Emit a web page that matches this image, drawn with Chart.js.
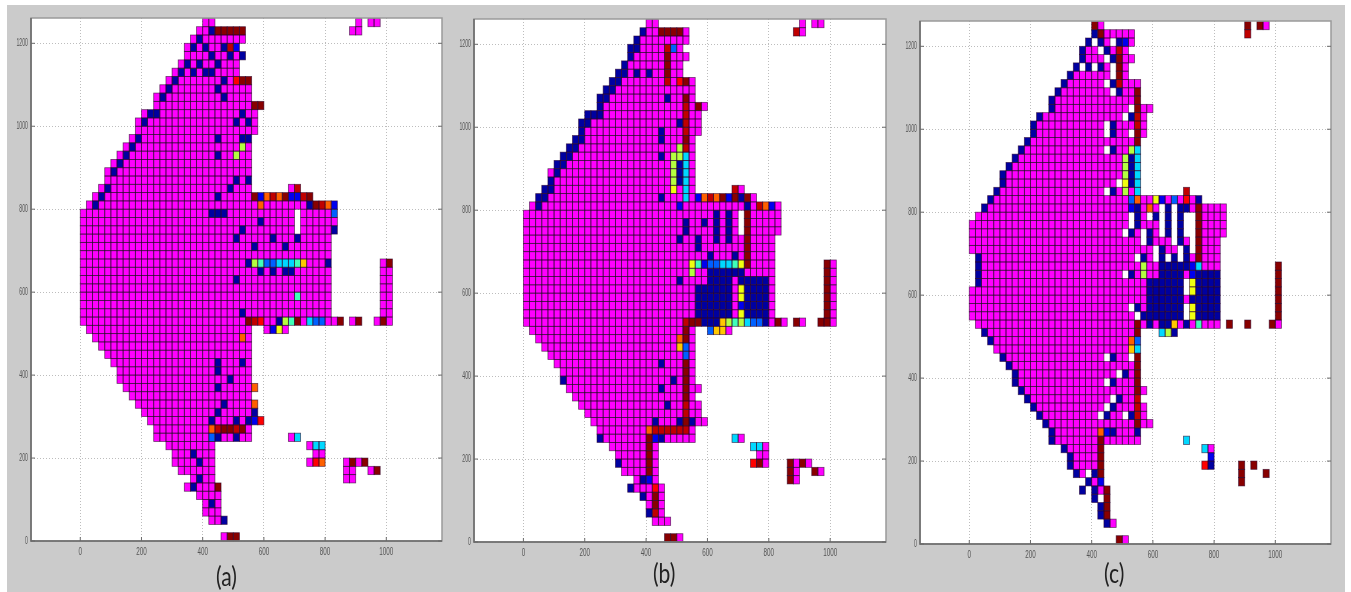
<!DOCTYPE html>
<html>
<head>
<meta charset="utf-8">
<script src="https://cdn.jsdelivr.net/npm/chart.js@4"></script>
<style>
html,body{margin:0;padding:0;background:#fff;width:1351px;height:592px;overflow:hidden}
#frame{position:absolute;left:7px;top:5px;width:1338px;height:587px;background:#cbcbcb}
canvas{position:absolute;top:0}
.lab{position:absolute;font-family:Lato,"Open Sans",sans-serif;font-size:27px;line-height:30px;color:#222;white-space:nowrap;transform:scaleX(.78);transform-origin:left top}
</style>
</head>
<body>
<div id="frame"></div>
<canvas id="ca" style="left:1px" width="451" height="592"></canvas>
<canvas id="cb" style="left:444px" width="452" height="592"></canvas>
<canvas id="cc" style="left:890px" width="451" height="592"></canvas>
<div class="lab" style="left:216px;top:561px">(a)</div>
<div class="lab" style="left:653px;top:558px">(b)</div>
<div class="lab" style="left:1104px;top:558px">(c)</div>
<script>
const xTicks = [0, 200, 400, 600, 800, 1000];
const yTicks = [0, 200, 400, 600, 800, 1000, 1200];
const binSize = 20;

// colour classes of the cells
const levelNames = ['M','N','B','L','C','T','G','Y','A','O','R','E','D'];
const levelColors = ['#ff00ff','#0000a0','#0000ee','#0060ff','#00d8ff','#40ffb8','#b4ff40','#f0ff10','#ffc800','#ff6000','#ff0000','#c00000','#880000'];

// Rows top to bottom (row 62 first, row 0 last). Tokens: "a-b" or "a" = column range, trailing letter = class
// (none = M, _ = empty cell).
const rowsA = [
"20-21 45 47-48",
"19-26 21N 22-26D 44-45",
"18-26 19N",
"17-25 18N 20N 23N 24E 25B",
"17-26 21N 24N 26N",
"16-25 17N 19N 22N",
"15-25 16N 18N 20-21N",
"14-27 15N 23N 25R 26-27D",
"13-27 14N 22N",
"12-27 13N 23N",
"12-27 28-29D",
"10-28 11-12N 26N",
"9-28 10N 25N 27N",
"9-28",
"8-27 9N 22N 26-27N",
"7-27 8N 26G",
"6-27 7N 22N 25G",
"5-27 6N",
"4-27 5N",
"4-27 25N 27N",
"3-27 4N 24N 34 35E",
"2-37 3N 22N 28D 29B 30O 31E 32O 33D 34-35B 36E 37D",
"1-41 2N 29O 37N 38D 39E 40O 41B",
"0-41 21-23N 35_ 41L",
"0-41 29N 35_",
"0-41 26N 35_ 41N",
"0-40 25N 31N 35N",
"0-40 28N 33N",
"0-40",
"0-40 27N 28G 29T 30-31L 32-34C 35T 36A 40N 49 50D",
"0-40 29N 31N 33-34N 49-50",
"0-40 25N 49-50",
"0-40 49-50",
"0-40 35T 49-50",
"0-40 49-50",
"0-40 26N 49-50",
"0-41 27D 28E 29R 32N 33G 34T 35D 37C 38-39L 42D 44 45D 48 49D 50",
"1-27 30 31B 32Y 33",
"2-27 26O",
"3-27",
"4-27",
"5-27 22N 26N",
"6-27 22N",
"6-27 24N",
"7-27 22N 28O",
"8-27",
"9-27 23N 28O",
"10-28 22N 28N",
"11-29 21N 25N 27N 28B 29R",
"12-27 21O 22E 23-24D 25E 26D",
"12-27 21L 22N 25N 34 35C",
"14-21 37 38-39C",
"15-21 18N 38-39",
"15-21 19N 37 38R 39O 43 44D 45 46D",
"16-21 43-44 47 48D",
"18-21 19N 43-44",
"17-22 18N 22D",
"19-22",
"20-22 21N",
"20-22",
"21-23 23N",
"",
"23 24-25D"
];

const rowsB = [
"20-21 45 47-48",
"19-26 19N 22-25D 44E 45",
"18-26 18N",
"17-25 17-18N 23E 24L",
"17-26 17N 23D",
"16-25 16N 23D",
"15-25 15-16N 18N 20N 23D",
"14-27 14-15N 23E 25R 26D",
"13-27 13-14N",
"12-27 12-13N 23N 26D",
"12-29 12N 26E 28D",
"10-28 10-12N 26E",
"9-28 9-10N 25N 26E",
"9-28 9N 22N 26E",
"8-27 8-9N 22N 26D",
"7-27 7-8N 25G 26E",
"6-27 6-7N 22N 24G 25G 26C",
"5-27 5-6N 24G 25N 26C",
"4-27 5N 24G 25N 26C",
"4-27 4N 24G 25N 26C",
"3-27 3-4N 24Y 26C 34E 35",
"2-37 2-3N 22N 26C 28B 29O 30E 31O 32D 33B 34D 35N 36D",
"1-41 2N 25B 36N 38E 39O 40B",
"0-41 31N 33N 35_ 36D",
"0-41 26N 29N 31N 33N 35_ 36D",
"0-41 26N 31N 33N 35_ 36D",
"0-40 25N 28N 31N 33N 36D",
"0-40 28N 36D",
"0-40 30N 34N 36D",
"0-40 27Y 28T 29B 30-31L 32-33C 34T 35Y 36D 49D 50",
"0-40 27G 30-35N 49D 50",
"0-40 25N 30-33N 35-39N 49D 50",
"0-40 28-33N 35Y 36-39N 49D 50",
"0-40 28-33N 35Y 36-39N 49D 50",
"0-40 28-33N 35B 36-39N 49D 50",
"0-40 28-33N 35Y 36-39N 49D 50",
"0-42 26E 27-28D 29-31N 32A 33G 34T 35G 36C 37-38L 39N 41D 44D 45 48-49D 50",
"1-27 26D 30L 31-32A 33",
"2-27 25O 26D",
"3-27 25A 26L",
"4-27 26L",
"5-27 22N 26D",
"6-27 26D",
"6-27 6N 24N 26D",
"7-28 22N 26D",
"8-27 26D",
"9-28 23N 26E",
"10-28 26E",
"11-29 21N 25N 26D 27N",
"12-27 20O 21-26E",
"12-27 12N 20D 21B 22N 34C 35",
"14-21 20D 37-38C 39",
"15-21 20D 38-39",
"15-21 15N 20D 37R 38D 39 43D 44 45D 46",
"16-21 20D 43D 44 47D 48",
"18-21 19N 20B 43D 44",
"17-22 17N 21R",
"19-22 19N 21D",
"20-22 21D",
"20-22 20N 21E",
"21-23",
"",
"23-24D 25"
];

const rowsC = [
"20D 21 45D 47D 48",
"20-26 20N 21D 45E",
"19-26 19N 20_ 21N 23_ 24N 25B",
"18-25 18N 21_ 22N 24E",
"18-26 18N 22_ 23N 24D",
"17-25 17N 18_ 19N 20_ 21N 23_ 24D",
"16-25 16N 23_ 24D",
"15-27 15N 22_ 23N 24E",
"14-27 14N 23_ 24N 27D",
"13-27 13N 27D",
"13-29 13N 26_ 27D",
"11-28 11N 25_ 26N 27E",
"10-28 10N 22_ 23N 27E",
"10-28 10N 22_ 23N 26_ 27D",
"9-27 9N 27D",
"8-27 8N 22_ 23N 26G 27C",
"7-27 7N 25G 26N 27C",
"6-27 6N 25G 26N 27C",
"5-27 5N 25G 26N 27C",
"5-27 5N 24_ 25Y 26N 27C",
"4-27 4N 22_ 23N 25G 27C 35E",
"3-37 3N 26L 27O 30Y 31B 33L 35R 37N",
"2-41 2N 26B 27N 29O 31_ 32N 33_ 34-35N 37D",
"1-41 26_ 27N 29_ 30N 31_ 32N 33_ 34N 35-36_ 37D",
"0-41 26_ 27N 31_ 32N 33_ 34N 35-36_ 37D",
"0-41 25_ 26N 28_ 29N 31_ 32N 33_ 34N 35-36_ 37D",
"0-40 28_ 29N 33_ 34N 36_ 37D",
"0-40 30_ 31N 34_ 35N 36_ 37D",
"1-40 1N 27_ 28N 30_ 31N 32_ 33N 34_ 35N 37D",
"1-40 1N 28G 31-35N 36B 37C 50D",
"1-40 1N 25_ 26N 28G 31-34N 36B 37-40N 50D",
"1-40 1N 29-34N 35_ 36Y 37-40N 50D",
"0-40 29-34N 35_ 36Y 37-40N 50D",
"0-40 29-34N 36N 37-40N 50D",
"0-40 26_ 27N 29-34N 35_ 36Y 37-40N 50D",
"0-40 27_ 28-34N 35_ 36Y 37-40N 50D",
"1-40 27D 29N 31-32N 33A 35N 37T 42D 45D 49D 50",
"2-27 2N 27D 31C 32G 33N",
"3-27 3N 26O 27L",
"4-27 26A 27C",
"5-27 5N 22_ 23N 26_ 27D",
"6-27 6N 27D",
"7-27 7N 24_ 25N 27D",
"7-27 7N 22_ 23N 27D",
"8-28 8N 27D",
"9-27 9N 23_ 24N 27E",
"10-28 10N 22_ 23N 27E",
"11-28 11N 21_ 22N 25_ 26N 27E",
"12-29 12N 27D",
"13-27 13N 21O 22B 23N 27N",
"13-27 13N 21D 35C",
"15-21 15N 21D 38C 39",
"16-21 16N 21D 39B",
"16-21 16N 21D 38R 39N 44D 46D",
"17-21 17N 19_ 20N 21D 44D 48D",
"19-21 19N 21B 44D",
"18N 20N 21 22D",
"20N 21_ 22D",
"21N 22D",
"21N 22D",
"22N 23",
"",
"24D 25"
];

function parseRows(rows) {
  const cells = {};
  rows.forEach((spec, i) => {
    const row = rows.length - 1 - i;
    const cur = {};
    spec.split(' ').filter(Boolean).forEach(tok => {
      const m = tok.match(/^(\d+)(?:-(\d+))?([A-Z_])?$/);
      const a = +m[1], b = m[2] ? +m[2] : a, k = m[3] || 'M';
      for (let c = a; c <= b; c++) { if (k === '_') delete cur[c]; else cur[c] = k; }
    });
    Object.keys(cur).forEach(c => {
      (cells[cur[c]] = cells[cur[c]] || []).push({x: +c * binSize + binSize / 2, y: row * binSize + binSize / 2});
    });
  });
  return levelNames.map((n, i) => ({
    label: n, data: cells[n] || [], backgroundColor: levelColors[i],
    pointRadius: 0, pointHoverRadius: 0, showLine: false
  }));
}

const cellPlugin = {
  id: 'cells',
  beforeDraw(chart) {
    const {ctx, chartArea: a} = chart;
    ctx.save();
    ctx.fillStyle = '#fff';
    ctx.fillRect(a.left, a.top, a.width, a.height);
    ctx.restore();
  },
  afterDatasetsDraw(chart) {
    const {ctx, chartArea: a, scales: {x, y}} = chart;
    const w = x.getPixelForValue(binSize) - x.getPixelForValue(0);
    const h = y.getPixelForValue(0) - y.getPixelForValue(binSize);
    ctx.save();
    chart.data.datasets.forEach((ds, i) => {
      const pts = chart.getDatasetMeta(i).data;
      ctx.fillStyle = ds.backgroundColor;
      pts.forEach(p => ctx.fillRect(p.x - w / 2, p.y - h / 2, w, h));
    });
    ctx.strokeStyle = 'rgba(40,0,40,0.65)';
    ctx.lineWidth = 0.8;
    chart.data.datasets.forEach((ds, i) => {
      chart.getDatasetMeta(i).data.forEach(p => ctx.strokeRect(p.x - w / 2, p.y - h / 2, w, h));
    });
    // box and inner tick marks
    ctx.strokeStyle = '#9a9a9a';
    ctx.lineWidth = 1.5;
    ctx.strokeRect(a.left, a.top, a.width, a.height);
    ctx.strokeStyle = '#6a6a6a';
    ctx.beginPath();
    ctx.moveTo(a.left, a.top); ctx.lineTo(a.left, a.bottom); ctx.lineTo(a.right, a.bottom);
    ctx.stroke();
    ctx.lineWidth = 1;
    ctx.beginPath();
    yTicks.forEach(v => {
      const py = y.getPixelForValue(v);
      ctx.moveTo(a.left, py); ctx.lineTo(a.left + 4, py);
      ctx.moveTo(a.right, py); ctx.lineTo(a.right - 4, py);
    });
    xTicks.forEach(v => {
      const px = x.getPixelForValue(v);
      ctx.moveTo(px, a.bottom); ctx.lineTo(px, a.bottom - 4);
    });
    ctx.stroke();
    ctx.restore();
  }
};

// The reference's tick labels are horizontally squeezed: draw the axis labels condensed around their anchor.
function condense(factor) {
  return scale => {
    if (scale._condensed) return;
    scale._condensed = true;
    const draw = scale.drawLabels;
    scale.drawLabels = function (area) {
      const ctx = scale.ctx, fill = ctx.fillText;
      ctx.fillText = function (t, px, py) {
        ctx.save();
        ctx.translate(px, py);
        ctx.scale(factor, 1);
        fill.call(ctx, t, 0, 0);
        ctx.restore();
      };
      draw.call(scale, area);
      delete ctx.fillText;
    };
  };
}

function makePanel(id, rows, top, bottom) {
  const family = '"Liberation Sans",Arial,sans-serif';
  new Chart(document.getElementById(id), {
    type: 'scatter',
    data: {datasets: parseRows(rows)},
    plugins: [cellPlugin],
    options: {
      responsive: false,
      animation: false,
      events: [],
      layout: {padding: {left: 0, right: 10, top: top, bottom: 592 - bottom - 18}},
      plugins: {legend: {display: false}, tooltip: {enabled: false}, title: {display: false}},
      scales: {
        x: {
          type: 'linear', min: -161, max: 1182,
          afterBuildTicks: s => { s.ticks = xTicks.map(v => ({value: v})); },
          afterFit: s => { s.height = 18; },
          afterUpdate: condense(0.63),
          grid: {color: '#bdbdbd', drawTicks: false},
          border: {display: false, dash: [1, 2]},
          ticks: {font: {family, size: 10}, color: '#555', padding: 5, maxRotation: 0, autoSkip: false, callback: v => String(v)}
        },
        y: {
          type: 'linear', min: 0, max: 1261,
          afterBuildTicks: s => { s.ticks = yTicks.map(v => ({value: v})); },
          afterFit: s => { s.width = 30; },
          afterUpdate: condense(0.47),
          grid: {color: '#bdbdbd', drawTicks: false},
          border: {display: false, dash: [1, 2]},
          ticks: {font: {family, size: 11}, color: '#555', padding: 3, autoSkip: false, callback: v => String(v)}
        }
      }
    }
  });
}

makePanel('ca', rowsA, 18, 541);
makePanel('cb', rowsB, 19, 542);
makePanel('cc', rowsC, 21, 544);
</script>
</body>
</html>
